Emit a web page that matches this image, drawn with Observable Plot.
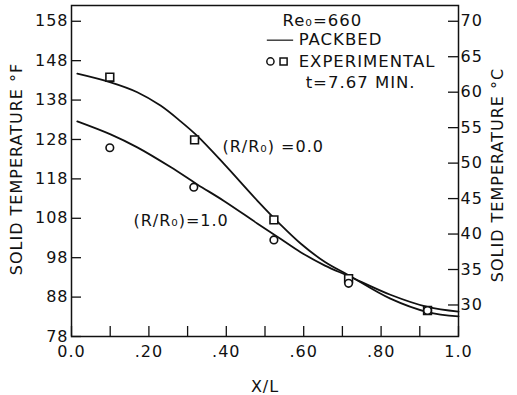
<!DOCTYPE html>
<html><head><meta charset="utf-8">
<script src="https://cdn.jsdelivr.net/npm/d3@7"></script>
<script src="https://cdn.jsdelivr.net/npm/@observablehq/plot@0.6"></script>
<style>body{margin:0;background:#fff;} #chart svg{display:block;}</style>
</head><body><div id="chart"></div>
<script>
// Tick values and labels
const xTicks = [0, 0.1, 0.2, 0.3, 0.4, 0.5, 0.6, 0.7, 0.8, 0.9, 1.0];
const xLabelTicks = [0, 0.2, 0.4, 0.6, 0.8, 1.0];
const xTickLabels = ["0.0", ".20", ".40", ".60", ".80", "1.0"];
const fTicks = [78, 88, 98, 108, 118, 128, 138, 148, 158];
const cTicks = [30, 35, 40, 45, 50, 55, 60, 65, 70];

// PACKBED model curves (°F vs X/L)
const r0X = [0.015, 0.101, 0.170, 0.230, 0.282, 0.325, 0.394, 0.480, 0.540, 0.592, 0.655, 0.717, 0.824, 0.920, 1.0];
const r0F = [144.7, 142.5, 140.0, 136.6, 132.6, 128.9, 121.8, 112.5, 106.4, 101.6, 96.9, 93.5, 87.6, 84.2, 83.1];
const r1X = [0.015, 0.101, 0.170, 0.256, 0.325, 0.394, 0.480, 0.540, 0.592, 0.655, 0.717, 0.824, 0.920, 1.0];
const r1F = [132.6, 129.3, 126.0, 121.0, 116.6, 112.4, 106.7, 102.8, 99.4, 96.0, 93.3, 88.6, 85.5, 84.3];

// Experimental points
const sqX = [0.099, 0.318, 0.523, 0.716, 0.920];
const sqF = [143.8, 127.9, 107.6, 92.7, 84.6];
const ciX = [0.099, 0.316, 0.523, 0.716, 0.920];
const ciF = [125.9, 115.9, 102.5, 91.5, 84.6];

// Annotations
const notes = ["(R/R\u2080) =0.0", "(R/R\u2080)=1.0"];
const legendTexts = ["Re\u2080=660", "PACKBED", "EXPERIMENTAL", "t=7.67 MIN."];

const curve0 = r0X.map((x, i) => ({x, y: r0F[i]}));
const curve1 = r1X.map((x, i) => ({x, y: r1F[i]}));
const squares = sqX.map((x, i) => ({x, y: sqF[i]}));
const circles = ciX.map((x, i) => ({x, y: ciF[i]}));
const noteData = [
  {t: notes[0], x: 0.39, y: 126.2},
  {t: notes[1], x: 0.16, y: 107.4}
];
const legendData = [
  {t: legendTexts[0], x: 0.545, y: 158.1},
  {t: legendTexts[1], x: 0.587, y: 153.2},
  {t: legendTexts[2], x: 0.587, y: 147.8},
  {t: legendTexts[3], x: 0.605, y: 142.3}
];
const f2c = f => Math.round((f - 32) * 5 / 9);
const c2f = c => c * 9 / 5 + 32;

const W = 517, H = 395, mL = 71, mR = 59, mT = 5, mB = 59;
const plotW = W - mL - mR, plotH = H - mT - mB, tickLen = 10;

const ink = "#111";
const chart = Plot.plot({
  width: W,
  height: H,
  marginLeft: mL,
  marginRight: mR,
  marginTop: mT,
  marginBottom: mB,
  x: {domain: [0, 1], axis: null, label: null},
  y: {domain: [78, 162], axis: null, label: null},
  style: {fontFamily: "DejaVu Sans", fontSize: "16px", color: ink, background: "#fff", letterSpacing: "1px"},
  marks: [
    Plot.frame({stroke: ink, strokeWidth: 1.5}),
    // inward ticks
    Plot.tickX(xTicks, {x: d => d, insetTop: plotH - tickLen, stroke: ink, strokeWidth: 1.3}),
    Plot.tickY(fTicks, {y: d => d, insetRight: plotW - tickLen, stroke: ink, strokeWidth: 1.3}),
    Plot.tickY(cTicks.map(c2f), {y: d => d, insetLeft: plotW - tickLen, stroke: ink, strokeWidth: 1.3}),
    // tick labels
    Plot.axisX(xLabelTicks, {anchor: "bottom", label: null, tickSize: 0, tickPadding: 9, fontSize: 16, fill: ink,
      tickFormat: (d, i) => xTickLabels[i]}),
    Plot.axisY(fTicks, {anchor: "left", label: null, tickSize: 0, tickPadding: 3, fontSize: 16, fill: ink}),
    Plot.axisY(cTicks.map(c2f), {anchor: "right", label: null, tickSize: 0, tickPadding: 2, fontSize: 16, fill: ink,
      tickFormat: f2c}),
    // axis titles
    Plot.text(["X/L"], {text: d => d, frameAnchor: "bottom", dy: 55, fontSize: 16, fill: ink}),
    Plot.text(["SOLID TEMPERATURE \u00b0F"], {text: d => d, frameAnchor: "left", textAnchor: "middle", dx: -55, dy: -2, rotate: -90, fontSize: 16, fill: ink}),
    Plot.text(["SOLID TEMPERATURE \u00b0C"], {text: d => d, frameAnchor: "right", textAnchor: "middle", dx: 39, dy: 4, rotate: -90, fontSize: 16, fill: ink}),
    // curves
    Plot.line(curve0, {x: "x", y: "y", curve: "catmull-rom", stroke: ink, strokeWidth: 1.8}),
    Plot.line(curve1, {x: "x", y: "y", curve: "catmull-rom", stroke: ink, strokeWidth: 1.8}),
    // experimental points
    Plot.dot(squares, {x: "x", y: "y", symbol: "square", r: 4.4, stroke: ink, fill: "#fff", strokeWidth: 1.6}),
    Plot.dot(circles, {x: "x", y: "y", symbol: "circle", r: 3.8, stroke: ink, fill: "#fff", strokeWidth: 1.6}),
    // annotations
    Plot.text(noteData, {x: "x", y: "y", text: "t", textAnchor: "start", fontSize: 16, fill: ink}),
    // legend
    Plot.text(legendData, {x: "x", y: "y", text: "t", textAnchor: "start", fontSize: 16.5, fill: ink}),
    Plot.ruleY([legendData[1].y], {x1: 0.506, x2: 0.574, stroke: ink, strokeWidth: 1.2}),
    Plot.dot([{x: 0.514, y: legendData[2].y}], {x: "x", y: "y", symbol: "circle", r: 3.6, stroke: ink, fill: "#fff", strokeWidth: 1.5}),
    Plot.dot([{x: 0.548, y: legendData[2].y}], {x: "x", y: "y", symbol: "square", r: 4.0, stroke: ink, fill: "#fff", strokeWidth: 1.5})
  ]
});
document.getElementById("chart").appendChild(chart);
</script>
</body></html>
